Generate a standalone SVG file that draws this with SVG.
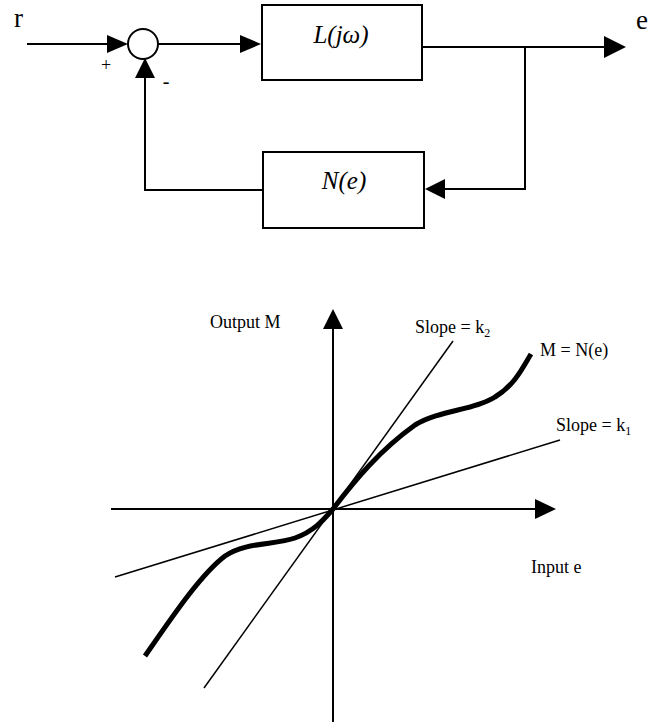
<svg xmlns="http://www.w3.org/2000/svg" width="668" height="722" viewBox="0 0 668 722">
  <style>
    .ln { fill: none; stroke: #000; stroke-width: 2; }
    .thin { fill: none; stroke: #000; stroke-width: 1.5; }
    .box { fill: #fff; stroke: #000; stroke-width: 2; }
    .ah { fill: #000; stroke: none; }
    .t { font-family: "Liberation Serif", "Times New Roman", serif; fill: #000; }
    .it { font-style: italic; }
  </style>
  <rect width="668" height="722" fill="#fff"/>

  <!-- Block diagram: connectors -->
  <g id="connectors">
    <!-- r into summing junction -->
    <line class="ln" x1="27" y1="44" x2="110" y2="44"/>
    <polygon class="ah" points="107,35 128,44 107,53"/>
    <!-- summer to L(jw) -->
    <line class="ln" x1="158" y1="44" x2="243" y2="44"/>
    <polygon class="ah" points="240,35 261,44 240,53"/>
    <!-- L(jw) output to e -->
    <line class="ln" x1="422" y1="47" x2="608" y2="47"/>
    <polygon class="ah" points="604,36 626,47 604,58"/>
    <!-- feedback branch down to N(e) -->
    <polyline class="ln" points="525,47 525,189 442,189"/>
    <polygon class="ah" points="445,179 425,189 445,199"/>
    <!-- N(e) back to summer -->
    <polyline class="ln" points="263,190 145,190 145,75"/>
    <polygon class="ah" points="135,78 145,58 155,78"/>
  </g>

  <!-- Summing junction -->
  <g id="summer">
    <circle cx="143" cy="44" r="15" fill="#fff" stroke="#000" stroke-width="2"/>
    <text class="t" x="106" y="71" font-size="18" text-anchor="middle">+</text>
    <text class="t" x="166" y="88" font-size="20" text-anchor="middle">-</text>
  </g>

  <g id="node-L">
    <rect class="box" x="262" y="5" width="160" height="75"/>
    <text class="t it" x="341" y="43" font-size="25" text-anchor="middle">L(jω)</text>
  </g>

  <g id="node-N">
    <rect class="box" x="263" y="152" width="161" height="76"/>
    <text class="t it" x="344" y="189" font-size="25" text-anchor="middle">N(e)</text>
  </g>

  <g id="labels-io">
    <text class="t" x="14" y="27" font-size="27">r</text>
    <text class="t" x="636" y="29" font-size="27">e</text>
  </g>

  <!-- Nonlinearity characteristic -->
  <g id="graph">
    <!-- axes -->
    <line class="ln" x1="333" y1="326" x2="333" y2="722"/>
    <polygon class="ah" points="323,329 333,309 343,329"/>
    <line class="ln" x1="111" y1="509" x2="538" y2="509"/>
    <polygon class="ah" points="535,499 556,509 535,519"/>

    <!-- slope lines -->
    <line class="thin" x1="204" y1="688" x2="453" y2="341"/>
    <line class="thin" x1="115" y1="577" x2="560" y2="440"/>

    <!-- M = N(e) curve -->
    <path d="M145,656 C170,620 200,575 225,556 C245,542 275,545 295,538 C315,531 325,518 333,509 C355,480 380,450 415,425 C440,410 475,410 495,397 C515,385 523,367 531,354"
          fill="none" stroke="#000" stroke-width="5"/>

    <text class="t" x="210" y="328" font-size="18">Output M</text>
    <text class="t" x="415" y="333" font-size="18">Slope = k<tspan font-size="12" dy="4">2</tspan></text>
    <text class="t" x="540" y="356" font-size="18">M = N(e)</text>
    <text class="t" x="556" y="431" font-size="18">Slope = k<tspan font-size="12" dy="4">1</tspan></text>
    <text class="t" x="531" y="573" font-size="18">Input e</text>
  </g>
</svg>
